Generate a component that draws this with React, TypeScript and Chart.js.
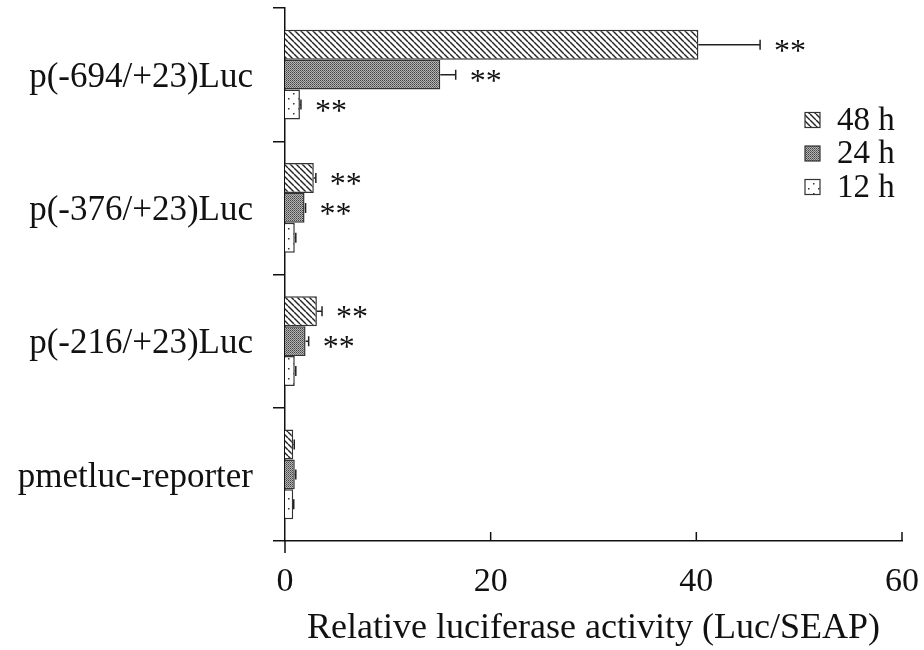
import React, { useEffect, useRef } from "react";
import { Chart, registerables } from "chart.js";

Chart.register(...registerables);

const categories = ["p(-694/+23)Luc", "p(-376/+23)Luc", "p(-216/+23)Luc", "pmetluc-reporter"];
const seriesNames = ["48 h", "24 h", "12 h"];
const h48 = [40.2, 2.8, 3.1, 0.8];
const h48Err = [6.0, 0.2, 0.5, 0.1];
const h24 = [15.1, 1.9, 2.0, 0.95];
const h24Err = [1.5, 0.1, 0.3, 0.1];
const h12 = [1.45, 0.95, 0.95, 0.8];
const h12Err = [0.1, 0.1, 0.1, 0.05];
const stars48 = ["**", "**", "**", ""];
const stars24 = ["**", "**", "**", ""];
const stars12 = ["**", "", "", ""];
const xTicks = [0, 20, 40, 60];
const xTitle = "Relative luciferase activity (Luc/SEAP)";

const FONT = "'Liberation Serif', 'Times New Roman', serif";

function makePattern(kind: string): CanvasPattern | string {
  const c = document.createElement("canvas");
  const g = c.getContext("2d");
  if (!g) return "#999";
  if (kind === "hatch") {
    const s = 6;
    c.width = s; c.height = s;
    g.fillStyle = "#fff"; g.fillRect(0, 0, s, s);
    g.strokeStyle = "#222"; g.lineWidth = 1.4;
    for (let k = -1; k <= 1; k++) {
      g.beginPath(); g.moveTo(k * s, 0); g.lineTo(k * s + s, s); g.stroke();
    }
  } else if (kind === "grey") {
    c.width = 2; c.height = 2;
    g.fillStyle = "#b4b4b4"; g.fillRect(0, 0, 2, 2);
    g.fillStyle = "#444"; g.fillRect(0, 0, 1, 1);
    g.fillStyle = "#6a6a6a"; g.fillRect(1, 1, 1, 1);
  } else {
    c.width = 10; c.height = 10;
    g.fillStyle = "#fff"; g.fillRect(0, 0, 10, 10);
    g.fillStyle = "#333";
    g.fillRect(3, 3, 1.5, 1.5);
    g.fillRect(8, 8, 1.5, 1.5);
  }
  const p = g.createPattern(c, "repeat");
  return p || "#999";
}

export default function App() {
  const ref = useRef<HTMLCanvasElement>(null);
  useEffect(() => {
    if (!ref.current) return;
    const fills = [makePattern("hatch"), makePattern("grey"), makePattern("dots")];
    const errs = [h48Err, h24Err, h12Err];
    const stars = [stars48, stars24, stars12];

    const overlay = {
      id: "overlay",
      afterDatasetsDraw(chart: any) {
        const ctx = chart.ctx;
        const xs = chart.scales.x;
        const area = chart.chartArea;
        ctx.save();
        chart.data.datasets.forEach((ds: any, di: number) => {
          const meta = chart.getDatasetMeta(di);
          meta.data.forEach((bar: any, i: number) => {
            const v = ds.data[i];
            const e = errs[di][i];
            const x0 = xs.getPixelForValue(v);
            const x1 = xs.getPixelForValue(v + e);
            const y = bar.y;
            ctx.strokeStyle = "#222";
            ctx.lineWidth = 1.5;
            ctx.beginPath();
            ctx.moveTo(x0, y); ctx.lineTo(x1, y);
            ctx.moveTo(x1, y - 5); ctx.lineTo(x1, y + 5);
            ctx.stroke();
            const s = stars[di][i];
            if (s) {
              ctx.fillStyle = "#111";
              ctx.font = `32px ${FONT}`;
              ctx.textAlign = "left";
              ctx.textBaseline = "alphabetic";
              ctx.fillText(s, x1 + 14, y + 16);
            }
          });
        });
        ctx.strokeStyle = "#111";
        ctx.lineWidth = 1.5;
        ctx.beginPath();
        xTicks.forEach((t) => {
          if (t === 0) return;
          const px = xs.getPixelForValue(t);
          ctx.moveTo(px, area.bottom); ctx.lineTo(px, area.bottom - 9);
        });
        ctx.moveTo(area.left, area.bottom); ctx.lineTo(area.left, area.bottom + 12);
        ctx.stroke();
        const lx = 805, ly0 = 120, step = 33.5, bs = 15;
        seriesNames.forEach((name, i) => {
          const cy = ly0 + i * step;
          ctx.fillStyle = fills[i] as any;
          ctx.fillRect(lx, cy - bs / 2, bs, bs);
          ctx.strokeStyle = "#333";
          ctx.lineWidth = 1.2;
          ctx.strokeRect(lx, cy - bs / 2, bs, bs);
          ctx.fillStyle = "#111";
          ctx.font = `33px ${FONT}`;
          ctx.textAlign = "left";
          ctx.textBaseline = "middle";
          ctx.fillText(name, 837, cy + 1);
        });
        ctx.restore();
      },
    };

    const chart = new Chart(ref.current, {
      type: "bar",
      data: {
        labels: categories,
        datasets: [h48, h24, h12].map((d, i) => ({
          label: seriesNames[i],
          data: d,
          backgroundColor: fills[i] as any,
          borderColor: "#333",
          borderWidth: 1.5,
          borderSkipped: "start",
          categoryPercentage: 0.675,
          barPercentage: 1,
        })),
      },
      options: {
        indexAxis: "y",
        responsive: false,
        animation: false,
        devicePixelRatio: 1,
        layout: { padding: { left: 0, right: 22, top: 8, bottom: 0 } },
        plugins: {
          legend: { display: false },
          tooltip: { enabled: false },
        },
        scales: {
          y: {
            type: "category",
            afterFit: (s: any) => {
              s.width = 285;
              s.paddingTop = 0; s.paddingBottom = 0; s.paddingLeft = 0; s.paddingRight = 0;
            },
            grid: {
              display: true,
              drawOnChartArea: false,
              drawTicks: true,
              tickLength: 12,
              offset: true,
              color: "#111",
              lineWidth: 1.5,
            },
            border: { display: true, color: "#111", width: 1.5 },
            ticks: {
              color: "#111",
              padding: 20,
              labelOffset: 3,
              font: { family: FONT, size: 35 },
            },
          },
          x: {
            type: "linear",
            min: 0,
            max: 60,
            afterFit: (s: any) => {
              s.height = 109;
              s.paddingTop = 0; s.paddingBottom = 0; s.paddingLeft = 0; s.paddingRight = 0;
            },
            afterBuildTicks: (s: any) => { s.ticks = xTicks.map((v) => ({ value: v })); },
            grid: { display: false },
            border: { display: true, color: "#111", width: 1.5 },
            ticks: {
              color: "#111",
              padding: 13,
              font: { family: FONT, size: 34 },
            },
            title: {
              display: true,
              text: xTitle,
              color: "#111",
              font: { family: FONT, size: 36 },
              padding: { top: 7, bottom: 0 },
            },
          },
        },
      },
      plugins: [overlay],
    } as any);
    return () => chart.destroy();
  }, []);
  return (
    <canvas
      ref={ref}
      width={924}
      height={650}
      style={{ position: "fixed", left: 0, top: 0, width: 924, height: 650, background: "#fff" }}
    />
  );
}
